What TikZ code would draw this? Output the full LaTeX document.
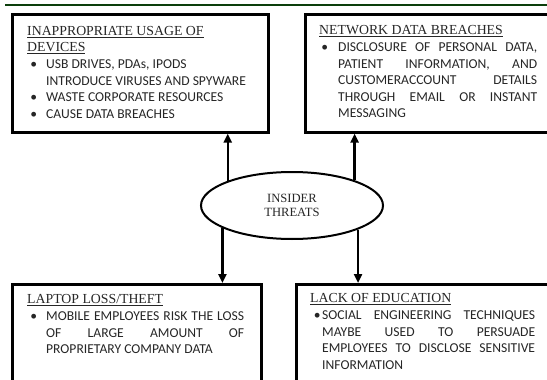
\documentclass[tikz,border=0pt]{standalone}
\usepackage{fontspec}
\setmainfont{Liberation Serif}
\newfontfamily\bodyfont{Carlito}
\usetikzlibrary{arrows.meta,shapes.geometric}
\setlength\parindent{0pt}
\definecolor{ink}{HTML}{262626}
\definecolor{rulegreen}{HTML}{0C3F0C}
\newcommand\headfont{\rmfamily\fontsize{13.8}{16}\selectfont}
\newcommand\bul[1]{\noindent\llap{\textbullet\hspace{#1}}}

\begin{document}
\begin{tikzpicture}[x=1pt,y=-1pt,
  box/.style={draw, line width=2.6pt, anchor=north west, inner sep=0pt},
  txt/.style={anchor=north west, inner sep=0pt, text width=#1, align=justify,
    text=ink, font=\bodyfont\fontsize{13.6}{16.6}\selectfont},
  link/.style={line width=2.2pt, -{Triangle[width=8pt,length=9pt]}}]
\useasboundingbox (0,0) rectangle (547,380);
\clip (0,0) rectangle (547,380);
\draw[rulegreen, line width=2pt] (5,4.5) -- (560,4.5);
% the four boxes
\node[box, minimum width=256pt, minimum height=118pt] (usage) at (11,13){};
\node[box, minimum width=260pt, minimum height=118pt] (network) at (304,13){};
\node[box, minimum width=249pt, minimum height=130pt] (laptop) at (11,283){};
\node[box, minimum width=270pt, minimum height=130pt] (education) at (295,283){};
% texts in the boxes
\node[txt=235pt, align=flush left] (usagetxt) at (27,26.5){%
{\headfont\underline{INAPPROPRIATE USAGE OF}\par\underline{DEVICES}\par}
{\leftskip=19pt
\bul{9pt}USB DRIVES, PDAs, IPODS\newline INTRODUCE VIRUSES AND SPYWARE\par
\bul{9pt}WASTE CORPORATE RESOURCES\par
\bul{9pt}CAUSE DATA BREACHES\par}};
\node[txt=218pt] (networktxt) at (319,25.5){%
{\headfont\underline{NETWORK DATA BREACHES}\par}
{\leftskip=19pt
\bul{10pt}DISCLOSURE OF PERSONAL DATA,\linebreak PATIENT INFORMATION, AND\linebreak
CUSTOMERACCOUNT DETAILS\linebreak THROUGH EMAIL OR INSTANT\linebreak MESSAGING\par}};
\node[txt=217pt] (laptoptxt) at (27,294.5){%
{\headfont\underline{LAPTOP LOSS/THEFT}\par}
{\leftskip=19pt
\bul{9pt}MOBILE EMPLOYEES RISK THE LOSS\linebreak OF LARGE AMOUNT OF\linebreak
PROPRIETARY COMPANY DATA\par}};
\node[txt=225pt] (educationtxt) at (310,293.5){%
{\headfont\underline{LACK OF EDUCATION}\par}
{\leftskip=12pt
\bul{1.5pt}SOCIAL ENGINEERING TECHNIQUES\linebreak MAYBE USED TO PERSUADE\linebreak
EMPLOYEES TO DISCLOSE SENSITIVE\linebreak INFORMATION\par}};
% the centre
\node[ellipse, draw, line width=2pt, minimum width=182pt, minimum height=67pt,
  inner sep=0pt, align=center, text=ink, font=\fontsize{12.6}{14}\selectfont]
  (insider) at (292,205.5){INSIDER\\THREATS};
\draw[link] (insider.159.6) -- (insider.159.6 |- usage.south);
\draw[link] (insider.22.2) -- (insider.22.2 |- network.south);
\draw[link] (insider.198.7) -- (insider.198.7 |- laptop.north);
\draw[link] (insider.340) -- (insider.340 |- education.north);
\end{tikzpicture}
\end{document}
